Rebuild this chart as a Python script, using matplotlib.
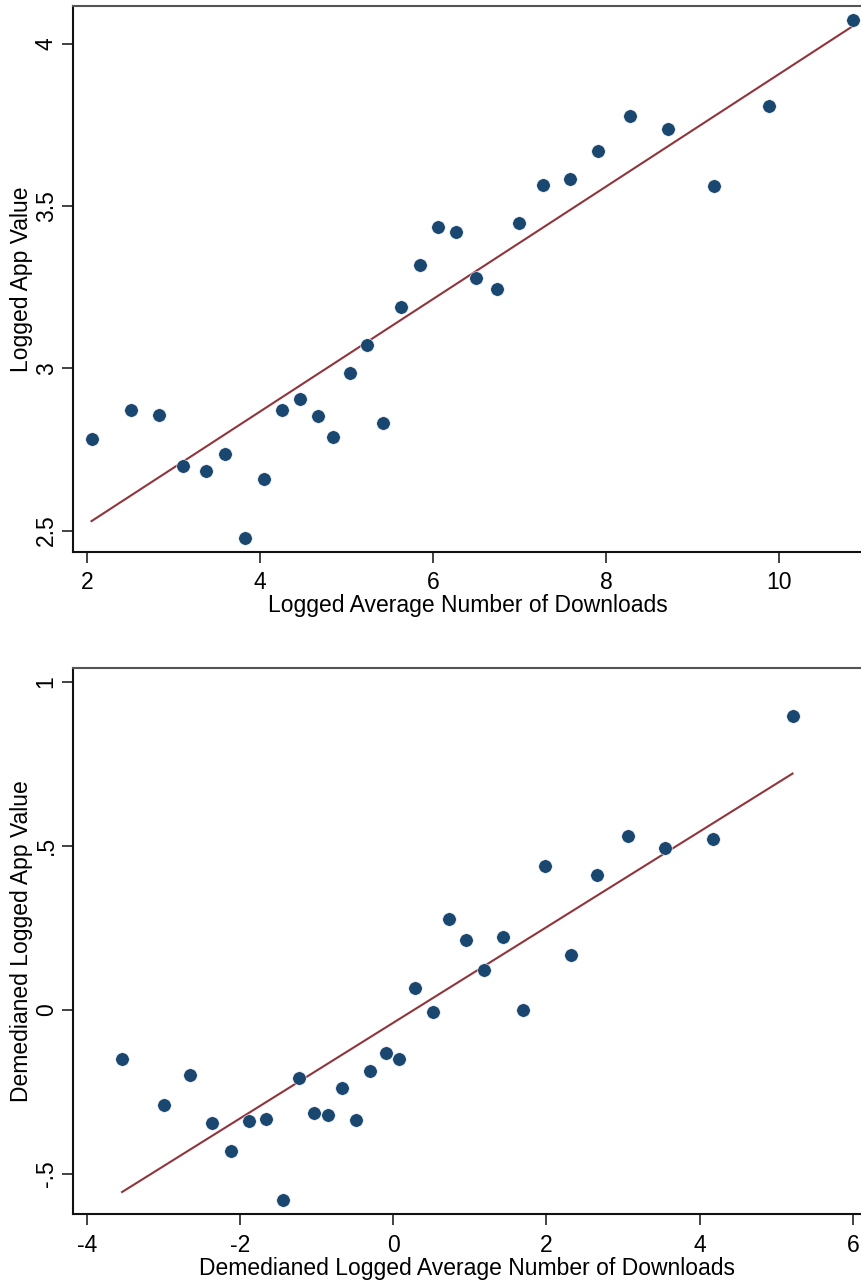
import numpy as np
import matplotlib
matplotlib.use("Agg")
import matplotlib.pyplot as plt
from matplotlib.ticker import FuncFormatter

plt.rcParams['font.family'] = ['Liberation Sans', 'DejaVu Sans']

# ---- Panel 1: logged values ----
top_x = [2.054, 2.509, 2.836, 3.110, 3.372, 3.599, 3.823, 4.043, 4.258, 4.462,
         4.667, 4.844, 5.037, 5.237, 5.426, 5.634, 5.846, 6.061, 6.269, 6.497,
         6.740, 6.998, 7.272, 7.588, 7.912, 8.277, 8.713, 9.249, 9.881, 10.852]
top_y = [2.783, 2.871, 2.856, 2.698, 2.684, 2.736, 2.476, 2.659, 2.871, 2.906,
         2.853, 2.789, 2.985, 3.073, 2.832, 3.188, 3.318, 3.437, 3.420, 3.279,
         3.245, 3.447, 3.564, 3.584, 3.670, 3.777, 3.738, 3.563, 3.809, 4.075]
top_fit_intercept = 2.173
top_fit_slope = 0.1734
top_xticks = [2, 4, 6, 8, 10]
top_yticks = [2.5, 3, 3.5, 4]

# ---- Panel 2: demedianed values ----
bot_x = [-3.539, -2.986, -2.655, -2.364, -2.120, -1.876, -1.659, -1.445, -1.232, -1.033,
         -0.845, -0.662, -0.488, -0.302, -0.097, 0.082, 0.282, 0.519, 0.726, 0.948,
         1.187, 1.435, 1.692, 1.988, 2.315, 2.662, 3.067, 3.550, 4.172, 5.213]
bot_y = [-0.149, -0.291, -0.200, -0.346, -0.431, -0.340, -0.334, -0.581, -0.209, -0.316,
         -0.320, -0.238, -0.337, -0.187, -0.133, -0.151, 0.066, -0.007, 0.277, 0.213,
         0.122, 0.221, 0.000, 0.437, 0.166, 0.410, 0.531, 0.494, 0.520, 0.895]
bot_fit_intercept = -0.040
bot_fit_slope = 0.1458
bot_xticks = [-4, -2, 0, 2, 4, 6]
bot_yticks = [-0.5, 0, 0.5, 1]

MARKER = '#1a476f'
LINE = '#90353b'
W, H = 862, 1280
FS = 16.5

fig = plt.figure(figsize=(W / 100, H / 100), dpi=100)


def stata_fmt(v, pos=None):
    s = ('%g' % v)
    if s.startswith('0.'):
        s = s[1:]
    elif s.startswith('-0.'):
        s = '-' + s[2:]
    return s


def make_panel(rect, xs, ys, b0, b1, xticks, yticks, xlim, ylim, xlabel, ylabel):
    ax = fig.add_axes(rect)
    ax.scatter(xs, ys, s=95, color=MARKER, edgecolors='white', linewidths=0.4, zorder=3)
    xr = np.array([min(xs), max(xs)])
    ax.plot(xr, b0 + b1 * xr, color=LINE, lw=1.5, zorder=2)
    ax.set_xlim(*xlim)
    ax.set_ylim(*ylim)
    ax.set_xticks(xticks)
    ax.set_yticks(yticks)
    ax.xaxis.set_major_formatter(FuncFormatter(stata_fmt))
    ax.yaxis.set_major_formatter(FuncFormatter(stata_fmt))
    ax.tick_params(axis='both', direction='out', length=8, width=1.2, color='#222222',
                   labelsize=FS)
    ax.tick_params(axis='x', pad=6)
    ax.tick_params(axis='y', pad=3)
    for lab in ax.get_yticklabels():
        lab.set_rotation(90)
        lab.set_va('center')
    ax.spines['right'].set_visible(False)
    for sp in ['left', 'bottom']:
        ax.spines[sp].set_linewidth(1.5)
        ax.spines[sp].set_color('#111111')
    ax.spines['top'].set_linewidth(1.5)
    ax.spines['top'].set_color('#555555')
    ax.set_xlabel(xlabel, fontsize=FS, labelpad=0)
    ax.set_ylabel(ylabel, fontsize=FS, labelpad=1.5)
    return ax


left = 73 / W
make_panel([left, 1 - 552 / H, 1 - left, (552 - 6) / H],
           top_x, top_y, top_fit_intercept, top_fit_slope,
           top_xticks, top_yticks, (1.84, 10.96), (2.434, 4.117),
           'Logged Average Number of Downloads', 'Logged App Value')

make_panel([left, 1 - 1214.3 / H, 1 - left, (1214.3 - 667.7) / H],
           bot_x, bot_y, bot_fit_intercept, bot_fit_slope,
           bot_xticks, bot_yticks, (-4.18, 6.12), (-0.624, 1.043),
           'Demedianed Logged Average Number of Downloads', 'Demedianed Logged App Value')

fig.savefig('out.png', dpi=100, facecolor='white')
